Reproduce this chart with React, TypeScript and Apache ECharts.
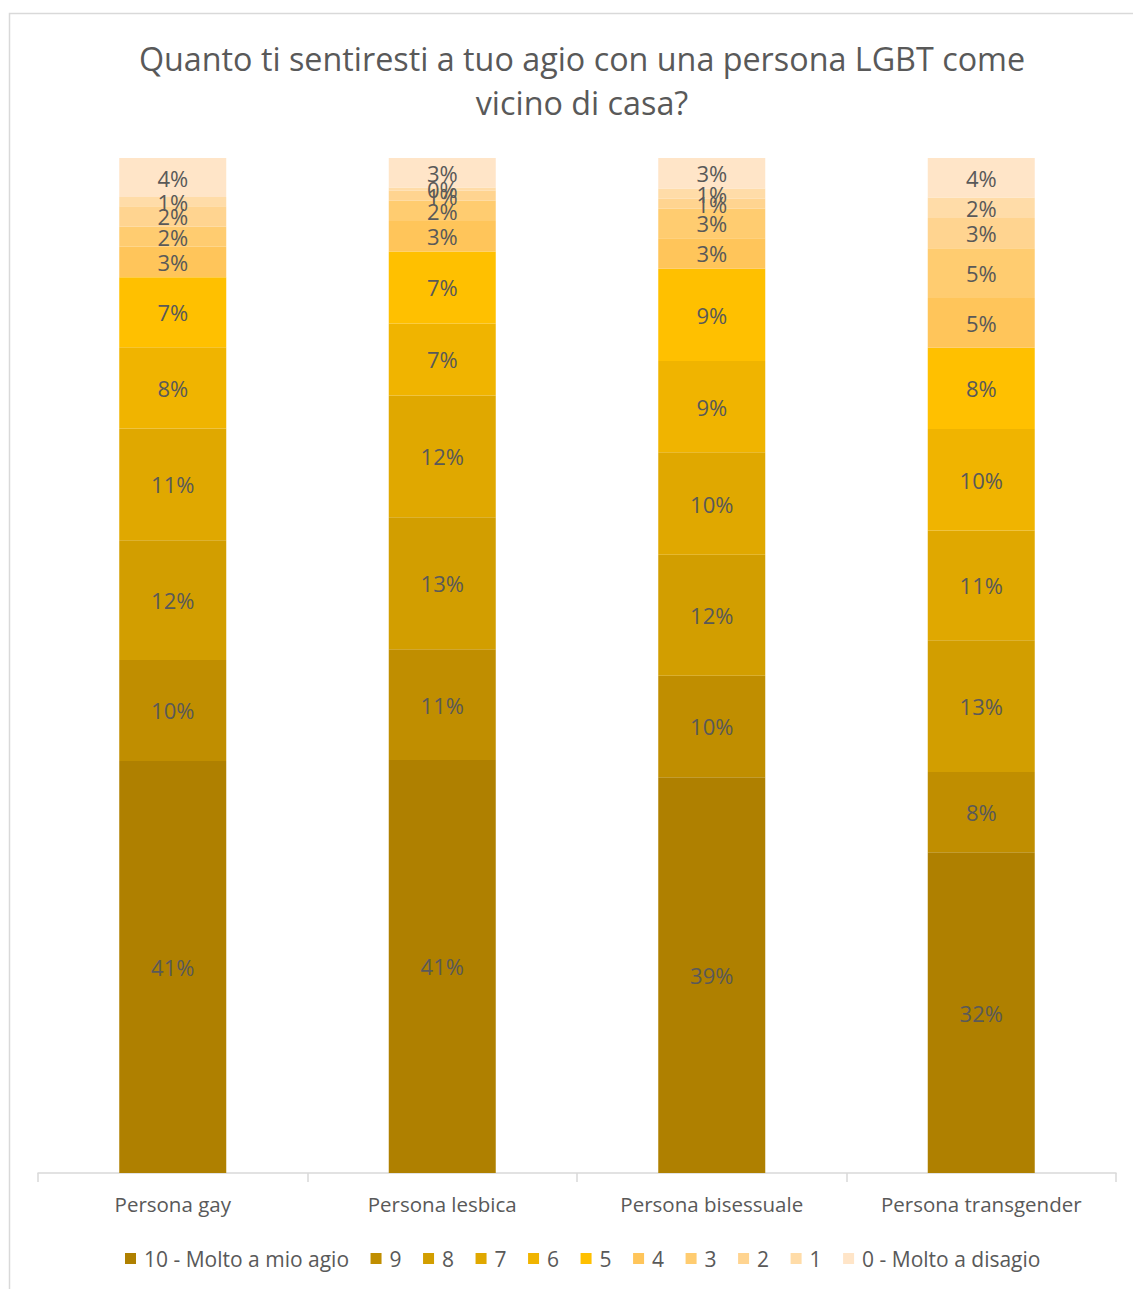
import React, { useEffect, useRef } from "react";
import * as echarts from "echarts";

const categories = ["Persona gay", "Persona lesbica", "Persona bisessuale", "Persona transgender"];
const seriesNames = ["10 - Molto a mio agio", "9", "8", "7", "6", "5", "4", "3", "2", "1", "0 - Molto a disagio"];
const s10 = [40.6, 40.7, 39.0, 31.6];
const s9 = [9.95, 10.9, 10.0, 7.9];
const s8 = [11.8, 13.0, 11.9, 13.0];
const s7 = [11.0, 12.0, 10.1, 10.8];
const s6 = [8.0, 7.1, 9.0, 10.0];
const s5 = [6.9, 7.1, 9.1, 8.0];
const s4 = [3.0, 3.0, 3.0, 4.9];
const s3 = [2.0, 2.0, 2.9, 4.9];
const s2 = [2.0, 1.0, 1.0, 3.0];
const s1 = [0.9, 0.3, 1.0, 2.0];
const s0 = [3.85, 2.9, 3.0, 3.9];
const seriesValues = [s10, s9, s8, s7, s6, s5, s4, s3, s2, s1, s0];
const colors = [
  "#AF8000", "#C08E00", "#D29E00", "#E0A800", "#F0B400", "#FFC000",
  "#FFC55A", "#FFCC70", "#FFD490", "#FFDCA8", "#FFE5C8",
];

const FONT = "Open Sans";
const GREY = "#595959";

export default function App() {
  const ref = useRef<HTMLDivElement>(null);
  useEffect(() => {
    document.body.style.margin = "0";
    const chart = echarts.init(ref.current!, null, { renderer: "svg" });
    chart.setOption({
      animation: false,
      color: colors,
      title: {
        text: "Quanto ti sentiresti a tuo agio con una persona LGBT come\nvicino di casa?",
        left: 577,
        textAlign: "center",
        top: 31,
        textStyle: { fontFamily: FONT, fontSize: 32.3, fontWeight: "normal", color: GREY, lineHeight: 44 },
      },
      graphic: [
        {
          type: "rect",
          shape: { x: 9.5, y: 13.5, width: 1140, height: 1300 },
          style: { fill: "none", stroke: "#D9D9D9", lineWidth: 1.5 },
          silent: true,
        },
      ],
      legend: {
        data: seriesNames,
        left: 120,
        top: 1243,
        itemWidth: 11,
        itemHeight: 11,
        itemGap: 21.5,
        icon: "rect",
        textStyle: { fontFamily: FONT, fontSize: 21, color: GREY, padding: [0, 0, 0, 3] },
      },
      grid: { left: 38, right: 17, top: 158, bottom: 116, containLabel: false },
      xAxis: {
        type: "category",
        data: categories,
        axisLine: { lineStyle: { color: "#D9D9D9", width: 1.5 } },
        axisTick: { show: true, length: 9, lineStyle: { color: "#D9D9D9", width: 1.5 } },
        axisLabel: { fontFamily: FONT, fontSize: 20.5, color: GREY, margin: 20 },
      },
      yAxis: { type: "value", min: 0, max: 100, show: false, splitLine: { show: false } },
      series: seriesValues.map((vals, i) => ({
        name: seriesNames[i],
        type: "bar",
        stack: "total",
        barWidth: 107,
        data: vals,
        label: {
          show: true,
          position: "inside",
          fontFamily: FONT,
          fontSize: 22,
          color: GREY,
          formatter: (p: any) => Math.round(p.value) + "%",
        },
      })),
    });
    return () => chart.dispose();
  }, []);
  return <div ref={ref} style={{ width: 1133, height: 1289 }} />;
}
